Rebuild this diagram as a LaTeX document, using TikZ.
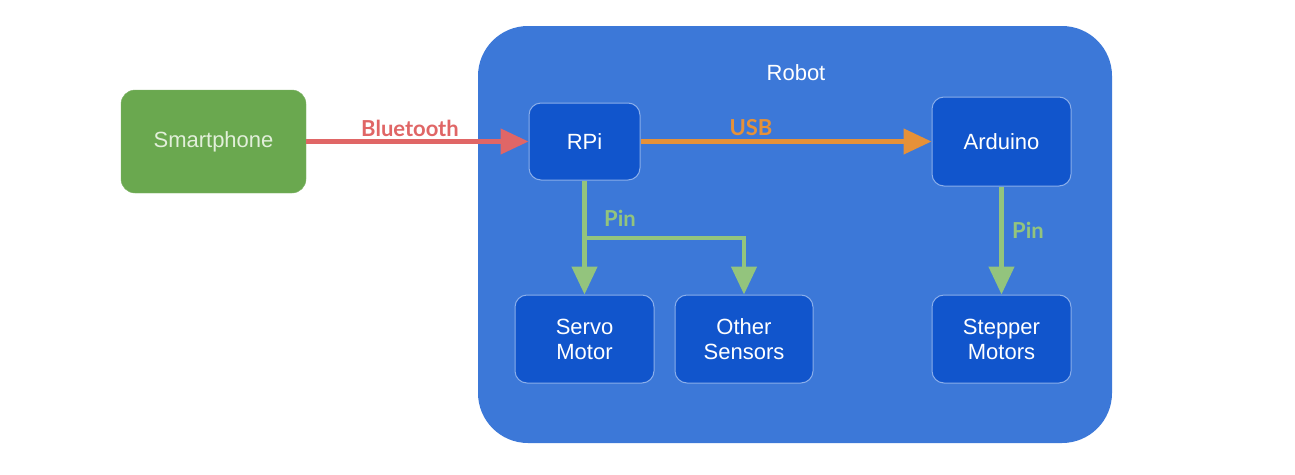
\documentclass[tikz,border=0pt]{standalone}
\usepackage{fontspec}
\setmainfont{Liberation Sans}
\newfontfamily\labelfont{Lato}
\usetikzlibrary{arrows.meta}
\definecolor{robotblue}{HTML}{3C78D8}
\definecolor{boxblue}{HTML}{1155CC}
\definecolor{boxborder}{HTML}{8AAEEA}
\definecolor{phonegreen}{HTML}{6AA84F}
\definecolor{phonetext}{HTML}{E2EFDA}
\definecolor{btred}{HTML}{E06666}
\definecolor{usborange}{HTML}{E69138}
\definecolor{pingreen}{HTML}{93C47D}
\tikzset{
  inner/.style={draw=boxborder, line width=1pt, fill=boxblue, rounded corners=12pt,
    text=white, font=\fontsize{22}{25}\selectfont, align=center, inner sep=0pt},
  conn/.style={line width=4.5pt, -{Triangle[length=28pt,width=25pt]}},
  lbl/.style={font=\labelfont\bfseries\fontsize{22}{25}\selectfont, inner sep=0pt}
}
\begin{document}
\begin{tikzpicture}[x=1pt,y=-1pt]
\useasboundingbox (0,0) rectangle (1295,474);
\fill[white] (0,0) rectangle (1295,474);
% robot container
\node[fill=robotblue, rounded corners=50pt, minimum width=634pt, minimum height=417pt, inner sep=0pt] (robot) at (795,234.5) {};
\node[text=white, font=\fontsize{22}{25}\selectfont] (robotlbl) at (796,73) {Robot};
% smartphone
\node[fill=phonegreen, draw=phonegreen!85!white, rounded corners=14pt, minimum width=185pt, minimum height=103pt,
  text=phonetext, font=\fontsize{22}{25}\selectfont, inner sep=0pt] (phone) at (213.5,141.5) {Smartphone};
% inner boxes
\node[inner, minimum width=111pt, minimum height=77pt] (rpi) at (584.5,141.5) {RPi};
\node[inner, minimum width=139pt, minimum height=89pt] (ard) at (1001.5,141.5) {Arduino};
\node[inner, minimum width=139pt, minimum height=88pt] (servo) at (584.5,339) {Servo\\Motor};
\node[inner, minimum width=138pt, minimum height=88pt] (other) at (744,339) {Other\\Sensors};
\node[inner, minimum width=139pt, minimum height=88pt] (step) at (1001.5,339) {Stepper\\Motors};
% connectors
\draw[conn, btred] (phone.east) -- (rpi.west);
\node[lbl, text=btred] (btlbl) at (410,128) {Bluetooth};
\draw[conn, usborange] (rpi.east) -- (ard.west);
\node[lbl, text=usborange] (usblbl) at (751,128) {USB};
\draw[conn, pingreen] (rpi.south) -- (servo.north);
\coordinate (br) at (584.5,238);
\draw[conn, pingreen] (br) -| (other.north);
\node[lbl, text=pingreen] (pin1) at (620,218) {Pin};
\draw[conn, pingreen] (ard.south) -- (step.north);
\node[lbl, text=pingreen] (pin2) at (1028,230) {Pin};
\end{tikzpicture}
\end{document}
